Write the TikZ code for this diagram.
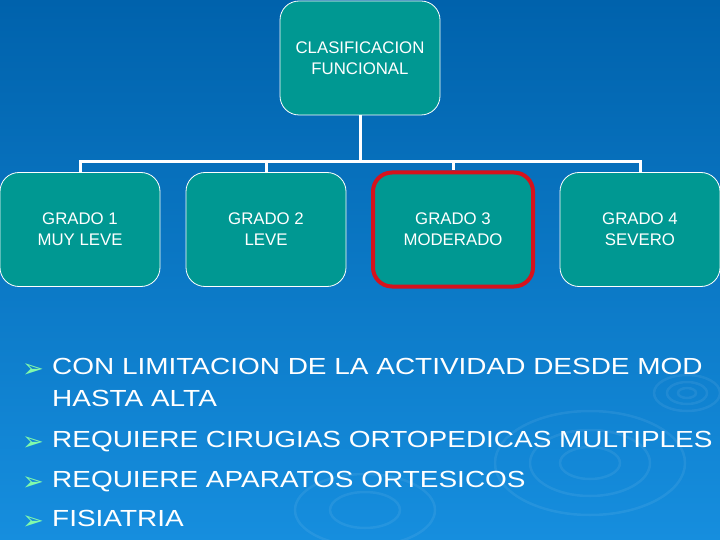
\documentclass[tikz,border=0pt]{standalone}
\usepackage{fontspec}
\setmainfont{Liberation Sans}
\newfontfamily\vinetafont{Liberation Sans}[FakeStretch=1.2]
\newfontfamily\flechafont{DejaVu Sans}
\usepackage{xcolor}
\usetikzlibrary{positioning}
\definecolor{fondoarriba}{RGB}{0,98,172}
\definecolor{fondoabajo}{RGB}{22,142,222}
\definecolor{verdeazul}{RGB}{0,152,146}
\definecolor{rojo}{RGB}{214,18,28}
\definecolor{verdeclaro}{RGB}{130,250,170}

\begin{document}
\begin{tikzpicture}[x=1pt,y=-1pt,
  caja/.style={shape=rectangle,rounded corners=19pt,draw=white,line width=0.8pt,fill=verdeazul,
    minimum width=160pt,minimum height=114pt,inner sep=0pt,text=white,align=center,
    font=\fontsize{16.8}{21}\selectfont},
  marcada/.style={draw=rojo,line width=4pt},
  rama/.style={draw=white,line width=3pt},
  vineta/.style={anchor=base west,inner sep=0pt,text=white,font=\vinetafont\fontsize{23.3}{28}\selectfont},
  flecha/.style={anchor=base west,inner sep=0pt,text=verdeclaro,font=\flechafont\fontsize{26}{28}\selectfont},
  onda/.style={draw=white,draw opacity=0.07,line width=2.5pt}]

            \useasboundingbox (0,0) rectangle (720,540);
            \shade[top color=fondoarriba,bottom color=fondoabajo] (0,0) rectangle (720,540);

            % ondas de agua
            \draw[onda] (590,463) ellipse (30 and 16);
            \draw[onda] (590,463) ellipse (60 and 33);
            \draw[onda] (590,463) ellipse (95 and 52);
            \draw[onda] (687,393) ellipse (9 and 5);
            \draw[onda] (687,393) ellipse (20 and 11);
            \draw[onda] (687,393) ellipse (33 and 18);
            \draw[onda] (365,510) ellipse (35 and 18);
            \draw[onda] (365,510) ellipse (70 and 36);

            \node[caja] (titulo) at (360,58) {CLASIFICACION\\FUNCIONAL};
            \node[caja] (g1) at (80,229.5) {GRADO 1\\MUY LEVE};
            \node[caja] (g2) at (266,229.5) {GRADO 2\\LEVE};
            \node[caja,marcada] (g3) at (453,229.5) {GRADO 3\\MODERADO};
            \node[caja] (g4) at (640,229.5) {GRADO 4\\SEVERO};

            \coordinate (union) at (360,161.5);
            \path [rama] (titulo) -- (union);
            \path [rama] (union) -| (g1);
            \path [rama] (union) -| (g2);
            \path [rama] (union) -| (g3);
            \path [rama] (union) -| (g4);

            \node[flecha] (f1) at (22,377) {➢};
            \node[vineta] (v1) at (52,374) {CON LIMITACION DE LA ACTIVIDAD DESDE MOD};
            \node[vineta] (v1b) at (52,406) {HASTA ALTA};
            \node[flecha] (f2) at (22,450) {➢};
            \node[vineta] (v2) at (52,447) {REQUIERE CIRUGIAS ORTOPEDICAS MULTIPLES};
            \node[flecha] (f3) at (22,490) {➢};
            \node[vineta] (v3) at (52,487) {REQUIERE APARATOS ORTESICOS};
            \node[flecha] (f4) at (22,529) {➢};
            \node[vineta] (v4) at (52,526) {FISIATRIA};
        \end{tikzpicture}
\end{document}
